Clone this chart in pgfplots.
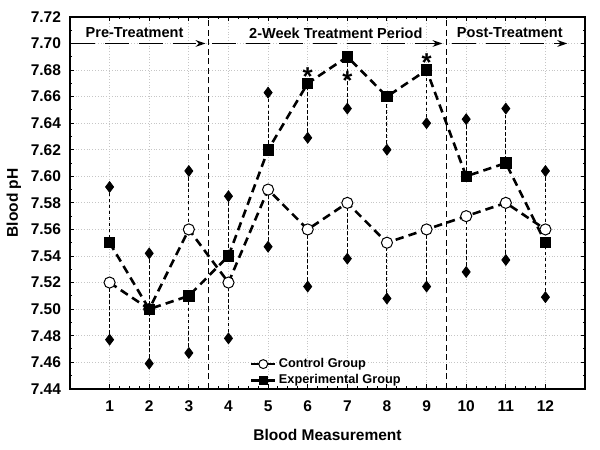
\documentclass[border=0pt]{standalone}
\usepackage{pgfplots}
\pgfplotsset{compat=1.18}
\usepackage{fontspec}
\setmainfont{Liberation Sans}
\usetikzlibrary{arrows.meta}

\begin{document}
\begin{tikzpicture}
\begin{axis}[
    width=259pt, height=187pt, scale only axis,
    xmin=0, xmax=13, ymin=7.44, ymax=7.72,
    xtick={1,2,3,4,5,6,7,8,9,10,11,12},
    ytick={7.44,7.46,7.48,7.50,7.52,7.54,7.56,7.58,7.60,7.62,7.64,7.66,7.68,7.70,7.72},
    minor x tick num=3, minor y tick num=1,
    major tick length=2.2pt, minor tick length=1.2pt,
    tick style={black, line width=0.5pt},
    axis line style={line width=0.7pt},
    grid=major,
    major grid style={gray!45, densely dotted, line width=0.4pt},
    /pgf/number format/assume math mode=true,
    yticklabel style={/pgf/number format/fixed, /pgf/number format/fixed zerofill,
        /pgf/number format/precision=2, xshift=-1pt},
    ticklabel style={font=\fontsize{7.8}{9}\selectfont\bfseries},
    xticklabel style={yshift=-2.5pt},
    xlabel={Blood Measurement}, ylabel={Blood pH},
    label style={font=\fontsize{7.8}{9}\selectfont\bfseries},
    xlabel style={yshift=-2pt},
    ylabel style={yshift=-2pt},
    legend style={draw=none, fill=none, font=\fontsize{6.4}{7.5}\selectfont\bfseries,
        at={(0.349,-0.002)}, anchor=south west, inner sep=0pt, row sep=-0.5pt,
        nodes={inner sep=1.3pt}},
    legend cell align=left,
    legend image code/.code={\draw[mark repeat=2, mark phase=2, #1, solid, line width=1.2pt,
        /tikz/every mark/.append style={scale=0.8}]
        plot coordinates {(0pt,0pt) (6pt,0pt) (12pt,0pt)};},
]

% period separators and arrows
\draw[black, line width=0.6pt, dash pattern=on 3pt off 1.8pt] (axis cs:3.5,7.44) -- (axis cs:3.5,7.72);
\draw[black, line width=0.6pt, dash pattern=on 3pt off 1.8pt] (axis cs:9.5,7.44) -- (axis cs:9.5,7.72);
\draw[black, line width=0.6pt, dash pattern=on 12pt off 5pt, -{Stealth[length=5pt, width=3.4pt]}]
    (axis cs:0.03,7.70) -- (axis cs:3.42,7.70);
\draw[black, line width=0.6pt, dash pattern=on 12pt off 5pt, -{Stealth[length=5pt, width=3.4pt]}]
    (axis cs:3.58,7.70) -- (axis cs:9.40,7.70);
\draw[black, line width=0.6pt, dash pattern=on 12pt off 5pt, -{Stealth[length=5pt, width=3.4pt]}]
    (axis cs:9.65,7.70) -- (axis cs:12.55,7.70);
\node[font=\fontsize{7.3}{8.5}\selectfont\bfseries] at (axis cs:1.63,7.708) {Pre-Treatment};
\node[font=\fontsize{7.3}{8.5}\selectfont\bfseries] at (axis cs:6.71,7.708) {2-Week Treatment Period};
\node[font=\fontsize{7.3}{8.5}\selectfont\bfseries] at (axis cs:11.10,7.708) {Post-Treatment};

% variability markers, control group
\addplot[forget plot, only marks, mark=diamond*, mark size=2.7pt, black,
    error bars/.cd, y dir=both, y explicit, error mark=none,
    error bar style={black, line width=0.5pt, dash pattern=on 1.8pt off 1.2pt}]
coordinates {
    (1,7.477) += (0,0.043) -= (0,0)
    (2,7.459) += (0,0.041) -= (0,0)
    (3,7.604) += (0,0) -= (0,0.044)
    (4,7.478) += (0,0.042) -= (0,0)
    (5,7.547) += (0,0.043) -= (0,0)
    (6,7.517) += (0,0.043) -= (0,0)
    (7,7.538) += (0,0.042) -= (0,0)
    (8,7.508) += (0,0.042) -= (0,0)
    (9,7.517) += (0,0.043) -= (0,0)
    (10,7.528) += (0,0.042) -= (0,0)
    (11,7.537) += (0,0.043) -= (0,0)
    (12,7.604) += (0,0) -= (0,0.044)
};
% variability markers, experimental group
\addplot[forget plot, only marks, mark=diamond*, mark size=2.7pt, black,
    error bars/.cd, y dir=both, y explicit, error mark=none,
    error bar style={black, line width=0.5pt, dash pattern=on 1.8pt off 1.2pt}]
coordinates {
    (1,7.592) += (0,0) -= (0,0.042)
    (2,7.542) += (0,0) -= (0,0.042)
    (3,7.467) += (0,0.043) -= (0,0)
    (4,7.585) += (0,0) -= (0,0.045)
    (5,7.663) += (0,0) -= (0,0.043)
    (6,7.629) += (0,0.041) -= (0,0)
    (7,7.651) += (0,0.039) -= (0,0)
    (8,7.620) += (0,0.040) -= (0,0)
    (9,7.640) += (0,0.040) -= (0,0)
    (10,7.643) += (0,0) -= (0,0.043)
    (11,7.651) += (0,0) -= (0,0.041)
    (12,7.509) += (0,0.041) -= (0,0)
};

% significance asterisks
\addplot[forget plot, draw=none, mark=none,
    nodes near coords={*},
    every node near coord/.style={anchor=base, yshift=-7.2pt, inner sep=0pt,
        font=\fontsize{13}{14}\selectfont\bfseries}]
coordinates {(6,7.679) (7,7.676) (9,7.690)};

\addplot[black, line width=1.3pt, dash pattern=on 4.2pt off 2.6pt,
    mark=*, mark size=2.8pt, mark options={solid, fill=white, line width=0.5pt}]
coordinates {
    (1,7.52) (2,7.50) (3,7.56) (4,7.52) (5,7.59) (6,7.56)
    (7,7.58) (8,7.55) (9,7.56) (10,7.57) (11,7.58) (12,7.56)
};
\addlegendentry{Control Group}
\addplot[black, line width=1.3pt, dash pattern=on 4.2pt off 2.6pt,
    mark=square*, mark size=2.6pt, mark options={solid, fill=black, line width=0.4pt}]
coordinates {
    (1,7.55) (2,7.50) (3,7.51) (4,7.54) (5,7.62) (6,7.67)
    (7,7.69) (8,7.66) (9,7.68) (10,7.60) (11,7.61) (12,7.55)
};
\addlegendentry{Experimental Group}
\end{axis}
\path[use as bounding box] (-33.5pt,-30.5pt) rectangle (266.5pt,195.5pt);
\end{tikzpicture}
\end{document}
